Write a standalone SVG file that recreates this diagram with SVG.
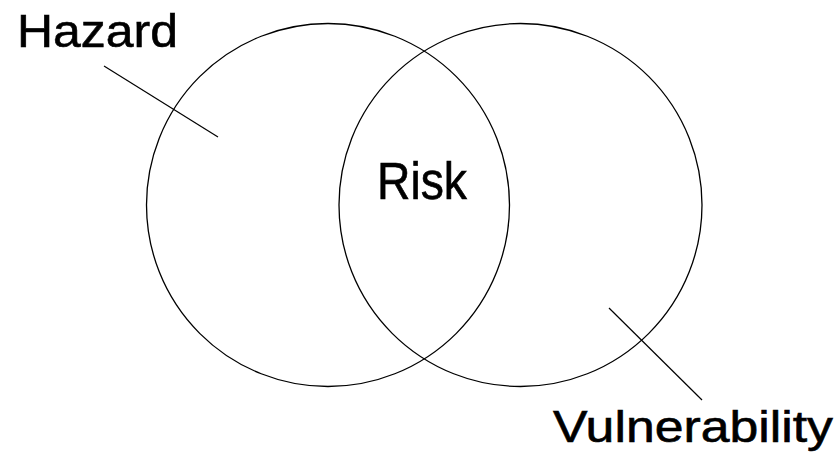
<svg xmlns="http://www.w3.org/2000/svg" width="840" height="454" viewBox="0 0 840 454">
<style>
.c{fill:none;stroke:#000;stroke-width:1.3}
.l{stroke:#000;stroke-width:1.2}
.t{font-family:"Liberation Sans","DejaVu Sans",sans-serif;fill:#000;stroke:#000;stroke-width:0.6}
</style>
<rect width="840" height="454" fill="#fff"/>
<g id="hazard">
<circle class="c" cx="328" cy="205" r="181.5"/>
<text class="t" x="17" y="47" font-size="47" textLength="161" lengthAdjust="spacingAndGlyphs">Hazard</text>
</g>
<g id="vulnerability">
<circle class="c" cx="520.5" cy="205" r="181.5"/>
<text class="t" x="553" y="442" font-size="44" textLength="280" lengthAdjust="spacingAndGlyphs">Vulnerability</text>
</g>
<g id="risk">
<text class="t" x="377" y="199" font-size="51" textLength="90" lengthAdjust="spacingAndGlyphs">Risk</text>
</g>
<g id="connectors">
<line class="l" x1="104" y1="66" x2="218" y2="137"/>
<line class="l" x1="609" y1="308" x2="702" y2="400"/>
</g>
</svg>
